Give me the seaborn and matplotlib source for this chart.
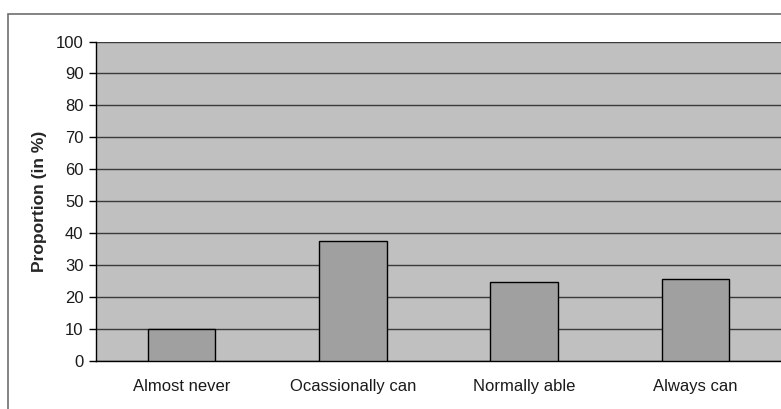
import matplotlib
matplotlib.use("Agg")
import matplotlib.pyplot as plt
from matplotlib.patches import Rectangle
import seaborn as sns
import pandas as pd
import numpy as np

categories = ["Almost never", "Ocassionally can", "Normally able", "Always can"]
proportions = [10.0, 37.5, 24.6, 25.6]
y_ticks = [0, 10, 20, 30, 40, 50, 60, 70, 80, 90, 100]

sns.set_theme(style="white")
plt.rcParams["font.family"] = ["Liberation Sans", "DejaVu Sans"]

W, H = 781, 409
fig = plt.figure(figsize=(W / 100, H / 100), dpi=100)
fig.patch.set_facecolor("white")

# outer chart-area frame
fig.patches.append(Rectangle((8 / W, -0.1), 1.1, (H - 14) / H + 0.1,
                             transform=fig.transFigure, fill=False,
                             edgecolor="#6e6e6e", linewidth=1.2, zorder=0))

left, right, top, bottom = 96, 781, 41.5, 361
ax = fig.add_axes([left / W, (H - bottom) / H, (right - left) / W, (bottom - top) / H])
ax.set_facecolor("#c0c0c0")

df = pd.DataFrame({"category": categories, "proportion": proportions})
sns.barplot(data=df, x="category", y="proportion", ax=ax, color="#a0a0a0",
            width=0.395, edgecolor="black", linewidth=1.0, saturation=1, zorder=3)

ax.set_xlim(-0.5, len(categories) - 0.5)
ax.set_ylim(0, 100)
ax.set_yticks(y_ticks)
ax.set_yticklabels([str(t) for t in y_ticks], fontsize=12, color="#1a1a1a")
ax.yaxis.grid(True, color="#3a3a3a", linewidth=1.0, zorder=1)
ax.set_axisbelow(True)

ax.set_xticks(range(len(categories)))
ax.set_xticklabels(categories, fontsize=12, color="#1a1a1a")
ax.set_xticks(np.arange(-0.5, len(categories)), minor=True)
ax.tick_params(axis="x", which="major", length=0, pad=13)
ax.tick_params(axis="x", which="minor", length=5, width=1, color="black", direction="out")
ax.tick_params(axis="y", length=5, width=1, color="black", direction="out", pad=4, left=True)

ax.set_xlabel("")
ax.set_ylabel("Proportion (in %)", fontsize=12.5, fontweight="bold", labelpad=6)

for side in ["top", "right"]:
    ax.spines[side].set_visible(False)
for side in ["left", "bottom"]:
    ax.spines[side].set_visible(True)
    ax.spines[side].set_color("black")
    ax.spines[side].set_linewidth(1.0)

fig.savefig("out.png", dpi=100)
